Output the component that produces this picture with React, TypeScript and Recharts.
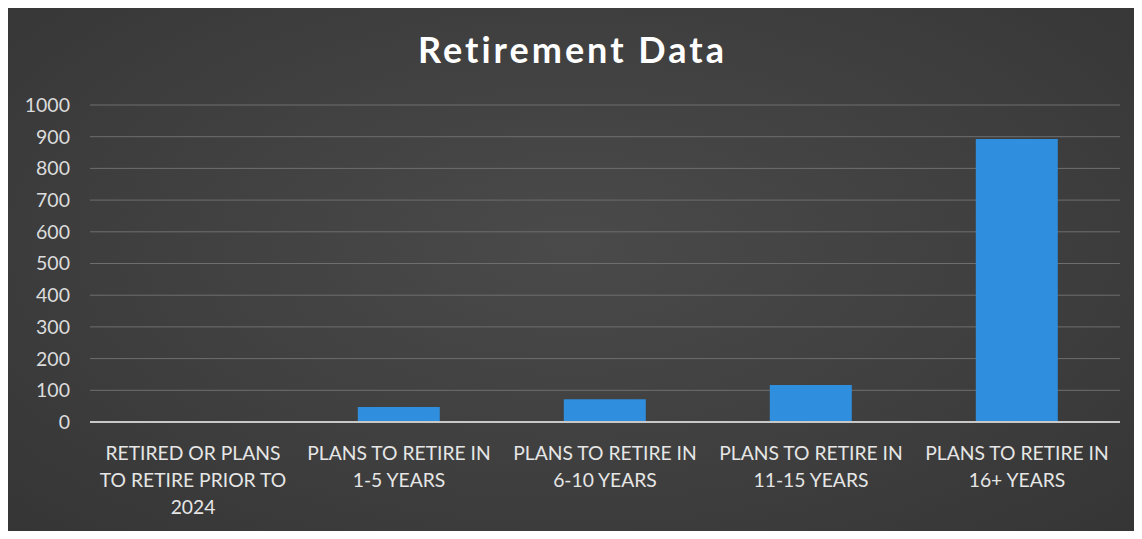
import { BarChart, Bar, XAxis, YAxis, CartesianGrid } from "recharts";

const categories = [
  "RETIRED OR PLANS TO RETIRE PRIOR TO 2024",
  "PLANS TO RETIRE IN 1-5 YEARS",
  "PLANS TO RETIRE IN 6-10 YEARS",
  "PLANS TO RETIRE IN 11-15 YEARS",
  "PLANS TO RETIRE IN 16+ YEARS",
];
const counts = [3, 47, 72, 117, 893];
const yTicks = [0, 100, 200, 300, 400, 500, 600, 700, 800, 900, 1000];

const data = categories.map((name, i) => ({ name, value: counts[i] }));

const FONT = "Lato, 'Open Sans', sans-serif";

// wrap the label into lines of at most 18 characters
function wrap(label: string, max = 18) {
  const lines: string[] = [];
  let cur = "";
  for (const w of label.split(" ")) {
    const next = cur ? cur + " " + w : w;
    if (next.length > max && cur) {
      lines.push(cur);
      cur = w;
    } else {
      cur = next;
    }
  }
  if (cur) lines.push(cur);
  return lines;
}

function CategoryTick(props: any) {
  const { x, y, payload } = props;
  const lines = wrap(payload.value);
  return (
    <text x={x} y={y} textAnchor="middle" fill="#e6e6e6" fontSize={19.3} fontFamily={FONT}>
      {lines.map((l, i) => (
        <tspan key={i} x={x} dy={i === 0 ? 22 : 27}>
          {l}
        </tspan>
      ))}
    </text>
  );
}

export default function App() {
  return (
    <div style={{ width: 1142, height: 539, margin: -8, background: "#fff", position: "relative" }}>
      <div
        style={{
          position: "absolute",
          left: 7,
          top: 5,
          width: 1131,
          height: 530,
          background: "radial-gradient(ellipse at 50% 45%, #4a4a4a 0%, #3f3f3f 55%, #353535 100%)",
        }}
      >
        <div
          style={{
            position: "absolute",
            top: 22,
            width: "100%",
            textAlign: "center",
            color: "#ffffff",
            fontFamily: FONT,
            fontWeight: 700,
            fontSize: 36,
            letterSpacing: 3,
          }}
        >
          Retirement Data
        </div>
        <BarChart
          width={1131}
          height={530}
          data={data}
          margin={{ top: 100, right: 18, bottom: 83, left: 0 }}
          barCategoryGap="30%"
        >
          <CartesianGrid vertical={false} stroke="#6e6e6e" strokeWidth={1} />
          <XAxis
            dataKey="name"
            interval={0}
            tickLine={false}
            axisLine={{ stroke: "#c8c8c8", strokeWidth: 2 }}
            tick={<CategoryTick />}
            tickSize={0}
            tickMargin={16}
          />
          <YAxis
            width={83}
            domain={[0, 1000]}
            ticks={yTicks}
            interval={0}
            axisLine={false}
            tickLine={false}
            tickSize={0}
            tickMargin={20}
            tick={{ fill: "#dcdcdc", fontSize: 19.5, fontFamily: FONT }}
          />
          <Bar dataKey="value" fill="#2f8fde" isAnimationActive={false} />
        </BarChart>
      </div>
    </div>
  );
}
